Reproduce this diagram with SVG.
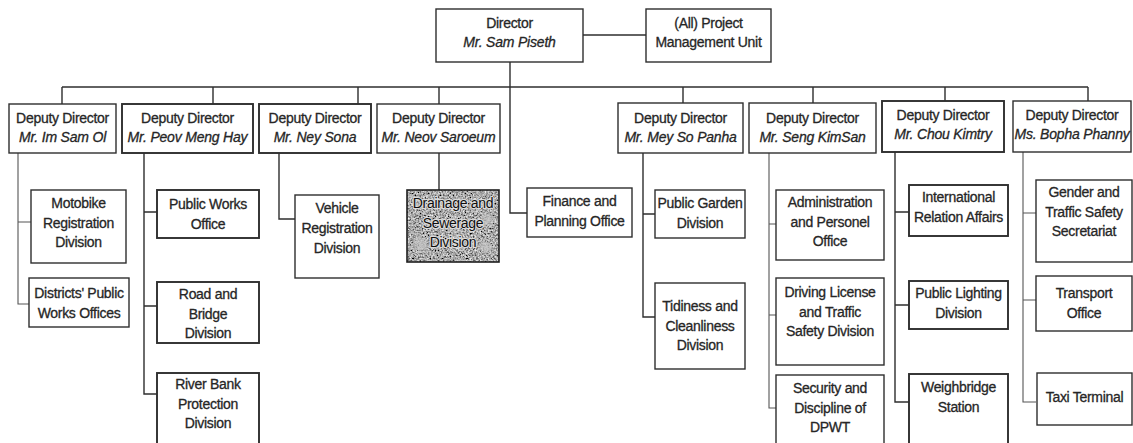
<svg xmlns="http://www.w3.org/2000/svg" width="1133" height="443" viewBox="0 0 1133 443">
  <style>
    .box { fill: #ffffff; stroke: #2e2e2e; stroke-width: 1.4; }
    .bold { stroke-width: 1.9; }
    .t { font-family: "Liberation Sans", Arial, sans-serif; font-size: 14px; letter-spacing: -0.3px; fill: #262626; stroke: #262626; stroke-width: 0.3px; text-anchor: middle; }
    .i { font-style: italic; font-size: 14px; letter-spacing: -0.2px; }
    .conn { fill: none; stroke: #2e2e2e; stroke-width: 1.4; }
    .faint { stroke: #555555; stroke-width: 1.1; }
    .halo { fill: #0e0e0e; stroke: #dcdcdc; stroke-width: 2.2px; paint-order: stroke; stroke-linejoin: round; }
  </style>
  <defs>
    <!-- speckled grey texture for the shaded division -->
    <filter id="grain" x="0" y="0" width="100%" height="100%">
      <feTurbulence type="fractalNoise" baseFrequency="0.6" numOctaves="2" seed="7" result="noise"/>
      <feColorMatrix in="noise" type="matrix" values="1.5 0 0 0 -0.35  1.5 0 0 0 -0.35  1.5 0 0 0 -0.35  0 0 0 0 1" result="speck"/>
      <feComposite in="speck" in2="SourceGraphic" operator="in"/>
    </filter>
    <filter id="soft" x="-50%" y="-50%" width="200%" height="200%">
      <feGaussianBlur stdDeviation="2.5"/>
    </filter>
  </defs>

  <rect width="1133" height="443" fill="#ffffff"/>

  <!-- connectors -->
  <g id="connectors">
    <path class="conn" d="M583 35 H646"/>
    <path class="conn" d="M510 62 V213 H527"/>
    <path class="conn" d="M62 87 H1088"/>
    <path class="conn" d="M62 87 V104 M213 87 V104 M358 87 V104 M439 87 V104 M683 87 V103 M813 87 V103 M945 87 V101 M1088 87 V101"/>
    <path class="conn faint" d="M18 153 V304 H29 M18 222 H31"/>
    <path class="conn bold" d="M144 153 V394 H157 M144 212 H157 M144 306 H157"/>
    <path class="conn" d="M279 153 V219 H295"/>
    <path class="conn" d="M439 153 V190"/>
    <path class="conn" d="M643 153 V317 H655 M643 214 H655"/>
    <path class="conn faint" d="M769 153 V408 H776 M769 224 H776 M769 315 H776"/>
    <path class="conn bold" d="M895 152 V402 H909 M895 212 H909 M895 305 H909"/>
    <path class="conn faint" d="M1023 152 V402 H1036 M1023 213 H1036 M1023 300 H1036"/>
  </g>

  <!-- top level -->
  <g id="director">
    <rect class="box" x="436" y="9" width="147" height="53"/>
    <text class="t"><tspan x="509.5" y="28">Director</tspan><tspan class="i" x="509.5" y="47">Mr. Sam Piseth</tspan></text>
  </g>
  <g id="pmu">
    <rect class="box" x="646" y="9" width="125" height="53"/>
    <text class="t"><tspan x="708.5" y="28">(All) Project</tspan><tspan x="708.5" y="47">Management Unit</tspan></text>
  </g>

  <!-- deputy directors -->
  <g id="dd-im-sam-ol">
    <rect class="box" x="9" y="104" width="107" height="49"/>
    <text class="t"><tspan x="62.5" y="123">Deputy Director</tspan><tspan class="i" x="62.5" y="142">Mr. Im Sam Ol</tspan></text>
  </g>
  <g id="dd-peov-meng-hay">
    <rect class="box bold" x="122" y="104" width="131" height="49"/>
    <text class="t"><tspan x="187.5" y="123">Deputy Director</tspan><tspan class="i" x="187.5" y="142">Mr. Peov Meng Hay</tspan></text>
  </g>
  <g id="dd-ney-sona">
    <rect class="box bold" x="259" y="104" width="112" height="49"/>
    <text class="t"><tspan x="315" y="123">Deputy Director</tspan><tspan class="i" x="315" y="142">Mr. Ney Sona</tspan></text>
  </g>
  <g id="dd-neov-saroeum">
    <rect class="box" x="377" y="104" width="123" height="49"/>
    <text class="t"><tspan x="438.5" y="123">Deputy Director</tspan><tspan class="i" x="438.5" y="142">Mr. Neov Saroeum</tspan></text>
  </g>
  <g id="dd-mey-so-panha">
    <rect class="box" x="618" y="103" width="125" height="50"/>
    <text class="t"><tspan x="680.5" y="123">Deputy Director</tspan><tspan class="i" x="680.5" y="142">Mr. Mey So Panha</tspan></text>
  </g>
  <g id="dd-seng-kimsan">
    <rect class="box" x="749" y="103" width="127" height="50"/>
    <text class="t"><tspan x="812.5" y="123">Deputy Director</tspan><tspan class="i" x="812.5" y="142">Mr. Seng KimSan</tspan></text>
  </g>
  <g id="dd-chou-kimtry">
    <rect class="box bold" x="882" y="101" width="122" height="51"/>
    <text class="t"><tspan x="943" y="120">Deputy Director</tspan><tspan class="i" x="943" y="139">Mr. Chou Kimtry</tspan></text>
  </g>
  <g id="dd-bopha-phanny">
    <rect class="box" x="1013" y="101" width="118" height="51"/>
    <text class="t"><tspan x="1072" y="120">Deputy Director</tspan><tspan class="i" x="1072" y="139">Ms. Bopha Phanny</tspan></text>
  </g>

  <!-- offices and divisions -->
  <g id="motobike-registration">
    <rect class="box" x="31" y="190" width="95" height="73"/>
    <text class="t"><tspan x="78.5" y="208">Motobike</tspan><tspan x="78.5" y="227.5">Registration</tspan><tspan x="78.5" y="247">Division</tspan></text>
  </g>
  <g id="districts-public-works">
    <rect class="box" x="29" y="278" width="100" height="49"/>
    <text class="t"><tspan x="79" y="298">Districts' Public</tspan><tspan x="79" y="317.5">Works Offices</tspan></text>
  </g>
  <g id="public-works-office">
    <rect class="box bold" x="157" y="190" width="102" height="48"/>
    <text class="t"><tspan x="208" y="209">Public Works</tspan><tspan x="208" y="228.5">Office</tspan></text>
  </g>
  <g id="road-bridge">
    <rect class="box bold" x="157" y="282" width="102" height="61"/>
    <text class="t"><tspan x="208" y="299">Road and</tspan><tspan x="208" y="318.5">Bridge</tspan><tspan x="208" y="338">Division</tspan></text>
  </g>
  <g id="river-bank-protection">
    <rect class="box bold" x="157" y="373" width="102" height="80"/>
    <text class="t"><tspan x="208" y="389">River Bank</tspan><tspan x="208" y="408.5">Protection</tspan><tspan x="208" y="428">Division</tspan></text>
  </g>
  <g id="vehicle-registration">
    <rect class="box" x="295" y="195" width="84" height="83"/>
    <text class="t"><tspan x="337" y="213">Vehicle</tspan><tspan x="337" y="233">Registration</tspan><tspan x="337" y="253">Division</tspan></text>
  </g>
  <g id="drainage-sewerage">
    <rect x="407" y="190" width="92" height="72" fill="#4a4a4a"/>
    <rect x="407" y="190" width="92" height="72" fill="#000" filter="url(#grain)"/>
    <g filter="url(#soft)" fill="#c4c4c4" opacity="0.85">
      <ellipse cx="421" cy="245" rx="6" ry="8"/>
      <ellipse cx="488" cy="220" rx="5" ry="7"/>
      <ellipse cx="486" cy="247" rx="7" ry="6"/>
      <ellipse cx="447" cy="207" rx="4" ry="3"/>
      <ellipse cx="455" cy="233" rx="4" ry="3"/>
    </g>
    <rect x="407" y="190" width="92" height="72" fill="none" stroke="#1e1e1e" stroke-width="1.6"/>
    <text class="t halo"><tspan x="453" y="208">Drainage and</tspan><tspan x="453" y="228">Sewerage</tspan><tspan x="453" y="247">Division</tspan></text>
  </g>
  <g id="finance-planning">
    <rect class="box" x="527" y="188" width="105" height="49"/>
    <text class="t"><tspan x="579.5" y="206">Finance and</tspan><tspan x="579.5" y="225.5">Planning Office</tspan></text>
  </g>
  <g id="public-garden">
    <rect class="box" x="655" y="190" width="90" height="48"/>
    <text class="t"><tspan x="700" y="208">Public Garden</tspan><tspan x="700" y="227.5">Division</tspan></text>
  </g>
  <g id="tidiness-cleanliness">
    <rect class="box" x="655" y="283" width="90" height="86"/>
    <text class="t"><tspan x="700" y="311">Tidiness and</tspan><tspan x="700" y="330.5">Cleanliness</tspan><tspan x="700" y="350">Division</tspan></text>
  </g>
  <g id="administration-personel">
    <rect class="box" x="776" y="190" width="108" height="70"/>
    <text class="t"><tspan x="830" y="207">Administration</tspan><tspan x="830" y="226.5">and Personel</tspan><tspan x="830" y="246">Office</tspan></text>
  </g>
  <g id="driving-license">
    <rect class="box" x="776" y="278" width="108" height="87"/>
    <text class="t"><tspan x="830" y="297">Driving License</tspan><tspan x="830" y="316.5">and Traffic</tspan><tspan x="830" y="336">Safety Division</tspan></text>
  </g>
  <g id="security-discipline">
    <rect class="box" x="776" y="375" width="108" height="78"/>
    <text class="t"><tspan x="830" y="393">Security and</tspan><tspan x="830" y="412.5">Discipline of</tspan><tspan x="830" y="432">DPWT</tspan></text>
  </g>
  <g id="international-relation">
    <rect class="box bold" x="909" y="185" width="99" height="51"/>
    <text class="t"><tspan x="958.5" y="202">International</tspan><tspan x="958.5" y="221.5">Relation Affairs</tspan></text>
  </g>
  <g id="public-lighting">
    <rect class="box bold" x="909" y="281" width="99" height="48"/>
    <text class="t"><tspan x="958.5" y="298">Public Lighting</tspan><tspan x="958.5" y="317.5">Division</tspan></text>
  </g>
  <g id="weighbridge-station">
    <rect class="box bold" x="909" y="374" width="99" height="79"/>
    <text class="t"><tspan x="958.5" y="392">Weighbridge</tspan><tspan x="958.5" y="411.5">Station</tspan></text>
  </g>
  <g id="gender-traffic-safety">
    <rect class="box" x="1036" y="180" width="96" height="82"/>
    <text class="t"><tspan x="1084" y="197">Gender and</tspan><tspan x="1084" y="216.5">Traffic Safety</tspan><tspan x="1084" y="236">Secretariat</tspan></text>
  </g>
  <g id="transport-office">
    <rect class="box" x="1036" y="276" width="96" height="55"/>
    <text class="t"><tspan x="1084" y="298">Transport</tspan><tspan x="1084" y="317.5">Office</tspan></text>
  </g>
  <g id="taxi-terminal">
    <rect class="box" x="1037" y="373" width="95" height="52"/>
    <text class="t"><tspan x="1084.5" y="402">Taxi Terminal</tspan></text>
  </g>
</svg>
